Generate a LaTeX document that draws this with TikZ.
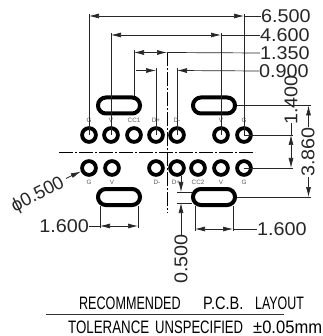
\documentclass[tikz,border=0pt]{standalone}
\usepackage{fontspec}
\setmainfont{Liberation Sans}
\usetikzlibrary{arrows.meta}
\tikzset{
 pad/.style={circle,draw=black,line width=3.8pt,minimum size=13.8pt,inner sep=0pt},
 dim/.style={draw=black!85,line width=0.7pt},
 ext/.style={draw=black!85,line width=0.7pt},
 arr/.style={-{Latex[length=10pt,width=5pt]}},
 center/.style={draw=black,line width=0.8pt,dash pattern=on 14pt off 2pt on 2pt off 2pt},
 dimtxt/.style={inner sep=0pt,font=\fontsize{18.5}{18.5}\selectfont,text=black!85},
 tiny/.style={inner sep=0pt,font=\fontsize{6.3}{6.3}\selectfont,text=black!65},
 title/.style={inner sep=0pt,anchor=west,font=\fontsize{18}{18}\selectfont,text=black}
}
\newcommand{\slotshape}[2]{\draw[line width=4pt,black,rounded corners=7.9pt] (#1-21,#2-8) rectangle (#1+21,#2+8);}
\begin{document}
\begin{tikzpicture}[x=1pt,y=-1pt]
\useasboundingbox (0,0) rectangle (322,336);
\fill[white] (0,0) rectangle (322,336);
% pads
\foreach \n/\x in {a/89,b/111,c/134,d/156,e/177,f/221,g/244} \node[pad] (t\n) at (\x,135) {};
\foreach \n/\x in {a/89,b/112,d/156,e/177,f/198,g/221,h/244} \node[pad] (b\n) at (\x,168) {};
\slotshape{119}{105.5}\slotshape{214}{105.5}\slotshape{119}{197}\slotshape{214}{197}
% centre lines
\coordinate (hl) at (59,152); \coordinate (hr) at (255,152);
\coordinate (vt) at (167,52); \coordinate (vb) at (167,213);
\draw[center] (hl)--(hr);
\draw[center] (vt)--(vb);
% tiny labels
\foreach \x/\t in {89/G,111/V,134/CC1,156/D+,177/D-,221/V,244/G} \node[tiny] at (\x,120.5) {\t};
\foreach \x/\t in {89/G,112/V,157/D-,176/D+,198/CC2,221/V,244/G} \node[tiny] at (\x,182.5) {\t};
% top dims
\node[dimtxt,anchor=west,xscale=1.07] (d65) at (261,16) {6.500};
\node[dimtxt,anchor=west,xscale=1.07] (d46) at (260,35) {4.600};
\node[dimtxt,anchor=west,xscale=1.07] (d13) at (260,53) {1.350};
\node[dimtxt,anchor=west,xscale=1.07] (d09) at (259,71) {0.900};
\draw[ext] (ta.center)--(89,14);
\draw[ext] (tg.center)--(244,14);
\draw[ext] (tb.center)--(111,33);
\draw[ext] (tf.center)--(221,33);
\draw[ext] (134,96)--(134,50);
\draw[ext] (td.center)--(156,68);
\draw[ext] (te.center)--(177,68);
\draw[dim,arr] (166,16)--(89,16);
\draw[dim,arr] (166,16)--(244,16);
\draw[dim] (244,16)--(d65.west);
\draw[dim,arr] (166,35)--(111,35);
\draw[dim,arr] (166,35)--(221,35);
\draw[dim] (221,35)--(d46.west);
\draw[dim,arr] (150,52.5)--(167,52.5);
\draw[dim,arr] (150,52.5)--(134,52.5);
\draw[dim] (167,52.5)--(d13.west);
\draw[dim,arr] (136,70.5)--(156,70.5);
\draw[dim,arr] (d09.west)--(177,70.5);
% right dims
\draw[ext] (237,105.5)--(311,105.5);
\draw[ext] (tg.center)--(293,135);
\draw[ext] (bh.center)--(293,168);
\draw[ext] (237,197)--(311,197);
\node[dimtxt,rotate=90,xscale=1.07] (d14) at (291,100) {1.400};
\node[dimtxt,rotate=90,xscale=1.07] (d38) at (308,152) {3.860};
\coordinate (m14) at (291,152);
\draw[dim] (291,123)--(291,135);
\draw[dim,arr] (m14)--(291,135);
\draw[dim,arr] (m14)--(291,168);
\draw[dim,arr] (308.5,127)--(308.5,105.5);
\draw[dim,arr] (308.5,177)--(308.5,197);
% lower dims
\node[dimtxt,anchor=east,xscale=1.07] (l16) at (89,226) {1.600};
\node[dimtxt,anchor=west,xscale=1.07] (r16) at (257,229) {1.600};
\draw[ext] (100,206)--(100,228);\draw[ext] (138,206)--(138,228);
\draw[ext] (195,206)--(195,231);\draw[ext] (233,206)--(233,231);
\draw[dim] (l16.east)--(100,226);
\draw[dim,arr] (119,226)--(100,226);
\draw[dim,arr] (119,226)--(138,226);
\draw[dim] (r16.west)--(233,229);
\draw[dim,arr] (214,229)--(195,229);
\draw[dim,arr] (214,229)--(233,229);
\node[dimtxt,rotate=90,xscale=1.07] (d05) at (181,259) {0.500};
\draw[ext] (177,192)--(192,192);\draw[ext] (177,203)--(192,203);
\draw[dim,arr] (181,176)--(181,192);
\draw[dim,arr] (181,235)--(181,203);
\node[dimtxt,rotate=27] (phi) at (38,195) {ϕ0.500};
\draw[dim] (66,178.5)--(72,175.5);
\draw[dim,arr] (72,175.5)--(ba);
% title
\node[title,xscale=0.70] (w1) at (79,303) {RECOMMENDED};
\node[title,xscale=0.81] (w2) at (203,303) {P.C.B.};
\node[title,xscale=0.69] (w3) at (255,303) {LAYOUT};
\coordinate (ra) at (46,314); \coordinate (rb) at (284,314);
\draw[line width=0.8pt,black!80] (ra)--(rb);
\node[title,xscale=0.74] (w4) at (68,327) {TOLERANCE};
\node[title,xscale=0.727] (w5) at (155,327) {UNSPECIFIED};
\node[title,xscale=0.92] (w6) at (253,327) {±0.05mm};
\end{tikzpicture}
\end{document}
